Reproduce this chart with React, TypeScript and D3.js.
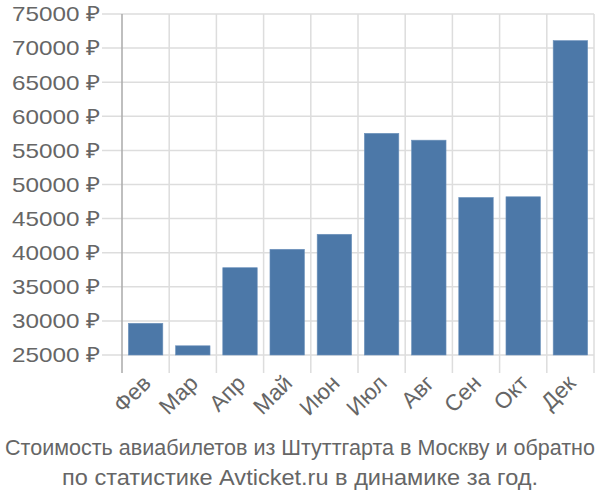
import React from "react";
import * as d3 from "d3";

const months = ["Фев", "Мар", "Апр", "Май", "Июн", "Июл", "Авг", "Сен", "Окт", "Дек"];
const prices = [29650, 26350, 37800, 40500, 42700, 57500, 56500, 48100, 48200, 71100];
const yTicks = [25000, 30000, 35000, 40000, 45000, 50000, 55000, 60000, 65000, 70000, 75000];
const titleLines = [
  "Стоимость авиабилетов из Штуттгарта в Москву и обратно",
  "по статистике Avticket.ru в динамике за год.",
];
const titleWidths = [590, 476];

export default function App() {
  const W = 600, H = 500;
  const left = 122, right = 594, top = 14, bottom = 355;
  const x = d3.scaleBand<string>().domain(months).range([left, right]).paddingInner(0.27).paddingOuter(0.135);
  const xb = d3.scaleBand<string>().domain(months).range([left, right]);
  const y = d3.scaleLinear().domain([25000, 75000]).range([bottom, top]);
  const textColor = "#666";
  return (
    <svg width={W} height={H} style={{ position: "absolute", left: 0, top: 0 }} fontFamily="'Liberation Sans', Arial, sans-serif">
      <rect width={W} height={H} fill="#fff" />
      {yTicks.map((t) => (
        <g key={t}>
          <line x1={102} x2={right} y1={y(t)} y2={y(t)} stroke="#ddd" strokeWidth={1.5} />
          <text x={100} y={y(t)} dy="0.35em" textAnchor="end" fontSize={21} fill={textColor} textLength={88} lengthAdjust="spacingAndGlyphs">
            {t} ₽
          </text>
        </g>
      ))}
      {months.map((m) => (
        <line key={m} x1={xb(m)! + xb.bandwidth()} x2={xb(m)! + xb.bandwidth()} y1={top} y2={373} stroke="#ddd" strokeWidth={1.5} />
      ))}
      <line x1={left} x2={left} y1={top} y2={373} stroke="#aaa" strokeWidth={1.5} />
      {months.map((m, i) => (
        <rect key={m} x={x(m)} y={y(prices[i])} width={x.bandwidth()} height={bottom - y(prices[i])} fill="#4c78a8" stroke="#6d92bc" strokeWidth={0.6} />
      ))}
      {months.map((m) => {
        const cx = xb(m)! + xb.bandwidth() / 2 + 1;
        const cy = 379;
        return (
          <text key={m} x={cx} y={cy} transform={`rotate(-45 ${cx} ${cy})`} textAnchor="end" dy="0.35em" fontSize={22.5} fill={textColor}>
            {m}
          </text>
        );
      })}
      {titleLines.map((l, i) => (
        <text key={i} x={W / 2} y={455 + i * 30} textAnchor="middle" fontSize={21.5} fill={textColor} textLength={titleWidths[i]} lengthAdjust="spacingAndGlyphs">
          {l}
        </text>
      ))}
    </svg>
  );
}
